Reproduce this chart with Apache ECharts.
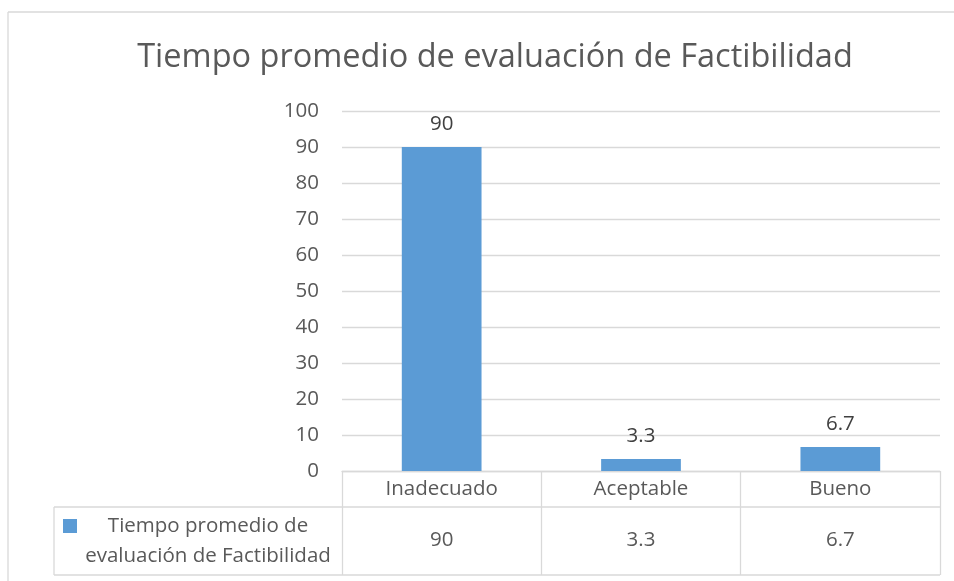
<!DOCTYPE html>
<html>
<head>
<meta charset="utf-8">
<script src="https://cdn.jsdelivr.net/npm/echarts@6/dist/echarts.min.js"></script>
<style>
  html, body { margin: 0; padding: 0; background: #ffffff; }
  #chart { width: 954px; height: 581px; }
</style>
</head>
<body>
<div id="chart"></div>
<script>
// Chart data
const titleText = 'Tiempo promedio de evaluación de Factibilidad';
const categories = ['Inadecuado', 'Aceptable', 'Bueno'];
const seriesName = 'Tiempo promedio de evaluación de Factibilidad';
const values = [90, 3.3, 6.7];
const yTicks = { min: 0, max: 100, interval: 10 };

// Layout
const W = 954, H = 581;
const gridLeft = 342, gridRight = 940, gridTop = 111, gridBottom = 471;
const tableRow1 = 507, tableRow2 = 575, tableLeft = 54;
const barColor = '#5b9bd5';
const lineColor = '#d9d9d9';
const textColor = '#595959';
const fontFamily = '"Open Sans", "Noto Sans", sans-serif';
const labelSize = 20.5;

const chart = echarts.init(document.getElementById('chart'), null, { renderer: 'canvas' });

const hLine = (x1, x2, y) => ({
  type: 'line', silent: true,
  shape: { x1: x1, y1: y, x2: x2, y2: y },
  style: { stroke: lineColor, lineWidth: 1.3 }
});
const vLine = (x, y1, y2) => ({
  type: 'line', silent: true,
  shape: { x1: x, y1: y1, x2: x, y2: y2 },
  style: { stroke: lineColor, lineWidth: 1.3 }
});

chart.setOption({
  backgroundColor: '#ffffff',
  animation: false,
  title: {
    text: titleText,
    left: 490,
    textAlign: 'center',
    top: 36,
    textStyle: { fontFamily: fontFamily, fontSize: 32.5, fontWeight: 'normal', color: textColor }
  },
  grid: {
    left: gridLeft, right: W - gridRight, top: gridTop, bottom: H - gridBottom,
    containLabel: false
  },
  xAxis: [
    {
      type: 'category',
      data: categories,
      position: 'bottom',
      axisLine: { show: true, lineStyle: { color: lineColor, width: 1.3 } },
      axisTick: { show: true, length: tableRow2 - gridBottom, lineStyle: { color: lineColor, width: 1.3 } },
      axisLabel: { margin: 8, fontFamily: fontFamily, fontSize: labelSize, color: textColor }
    },
    {
      type: 'category',
      data: values.map(v => String(v)),
      position: 'bottom',
      offset: 52,
      axisLine: { show: false },
      axisTick: { show: false },
      axisLabel: { margin: 7, fontFamily: fontFamily, fontSize: labelSize, color: textColor }
    }
  ],
  yAxis: {
    type: 'value',
    min: yTicks.min,
    max: yTicks.max,
    interval: yTicks.interval,
    axisLine: { show: false },
    axisTick: { show: false },
    splitLine: { lineStyle: { color: lineColor, width: 1.3 } },
    axisLabel: { margin: 23, fontFamily: fontFamily, fontSize: labelSize, color: textColor }
  },
  series: [{
    name: seriesName,
    type: 'bar',
    data: values,
    barWidth: '40%',
    itemStyle: { color: barColor },
    label: {
      show: true,
      position: 'top',
      distance: 12,
      fontFamily: fontFamily,
      fontSize: labelSize,
      color: '#404040'
    }
  }],
  graphic: [
    // outer chart frame
    hLine(8, W, 12),
    vLine(8, 12, H),
    // data table frame
    hLine(tableLeft, gridRight, tableRow1),
    hLine(tableLeft, gridRight, tableRow2),
    vLine(tableLeft, tableRow1, tableRow2),
    // legend key inside the table
    {
      type: 'rect', silent: true,
      shape: { x: 63, y: 519, width: 14, height: 14 },
      style: { fill: barColor }
    },
    {
      type: 'text', silent: true,
      x: 208, y: 541,
      style: {
        text: 'Tiempo promedio de\nevaluación de Factibilidad',
        align: 'center', verticalAlign: 'middle',
        fontFamily: fontFamily, fontSize: labelSize, lineHeight: 30,
        fill: textColor
      }
    }
  ]
});
</script>
</body>
</html>
